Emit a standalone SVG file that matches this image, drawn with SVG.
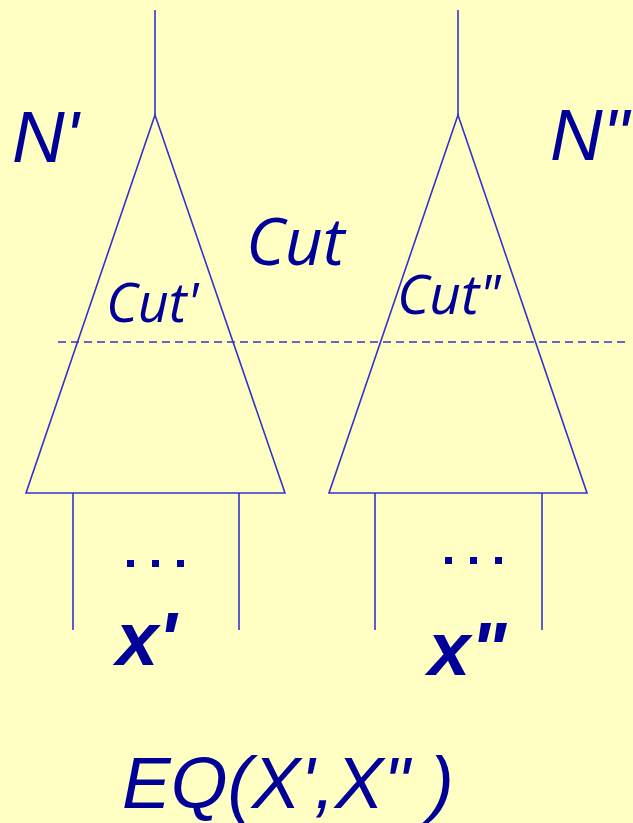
<svg xmlns="http://www.w3.org/2000/svg" width="633" height="823" viewBox="0 0 633 823">
<style>
.ln{stroke:#3333CC;stroke-width:1.6;fill:none}
.dash{stroke:#3333CC;stroke-width:1.6;stroke-dasharray:8,5;fill:none}
.t{fill:#000099;font-family:"Liberation Sans",Arial,sans-serif;font-style:italic}
.o{fill:#000099;font-family:"Open Sans","Noto Sans",sans-serif;font-style:italic}
.b{fill:#000099;font-family:"Liberation Sans",Arial,sans-serif;font-style:italic;font-weight:bold}
.dot{fill:#000099}
</style>
<rect width="633" height="823" fill="#FFFFC4"/>
<g id="connectors">
<line class="dash" x1="58" y1="342" x2="630" y2="342"/>
</g>
<g id="left-tree">
<line class="ln" x1="155" y1="10" x2="155" y2="115"/>
<polygon class="ln" points="155,115 285,493 26,493"/>
<line class="ln" x1="73" y1="493" x2="73" y2="630"/>
<line class="ln" x1="239" y1="493" x2="239" y2="630"/>
<text class="t" x="12" y="162" font-size="73">N'</text>
<text class="o" x="106" y="322" font-size="54">Cut'</text>
<rect class="dot" x="127" y="560" width="7" height="7"/>
<rect class="dot" x="152" y="560" width="7" height="7"/>
<rect class="dot" x="177" y="560" width="7" height="7"/>
<text class="b" x="116" y="665" font-size="76">x'</text>
</g>
<g id="right-tree">
<line class="ln" x1="458" y1="10" x2="458" y2="115"/>
<polygon class="ln" points="458,115 587,493 329,493"/>
<line class="ln" x1="375" y1="493" x2="375" y2="630"/>
<line class="ln" x1="542" y1="493" x2="542" y2="630"/>
<text class="t" x="550" y="160" font-size="73">N"</text>
<text class="o" x="397" y="314" font-size="55">Cut"</text>
<rect class="dot" x="445" y="557" width="7" height="7"/>
<rect class="dot" x="470" y="557" width="7" height="7"/>
<rect class="dot" x="495" y="557" width="7" height="7"/>
<text class="b" x="428" y="675" font-size="76">x"</text>
</g>
<g id="cut-label">
<text class="o" x="246" y="265" font-size="66">Cut</text>
</g>
<g id="eq-label">
<text class="t" x="122" y="808" font-size="73">EQ(X',X" )</text>
</g>
</svg>
